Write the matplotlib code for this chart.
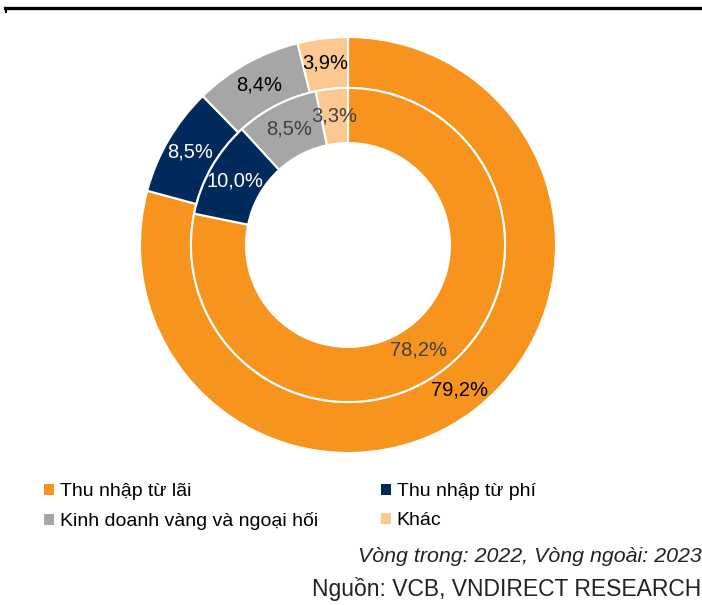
import numpy as np
import matplotlib
matplotlib.use('Agg')
import matplotlib.pyplot as plt
from matplotlib.lines import Line2D
from matplotlib.patches import Patch

plt.rcParams['font.family'] = ['Liberation Sans', 'DejaVu Sans']

categories = ['Thu nhập từ lãi', 'Thu nhập từ phí', 'Kinh doanh vàng và ngoại hối', 'Khác']
inner_2022 = [78.2, 10.0, 8.5, 3.3]
outer_2023 = [79.2, 8.5, 8.4, 3.9]
colors = ['#F7941D', '#002A5C', '#A6A6A6', '#FDC88F']
label_colors_inner = ['#404040', 'white', '#404040', '#404040']
label_colors_outer = ['black', 'white', 'black', 'black']
# small nudge (px) for the label Excel moved
inner_nudge = [(-12, -4), (0, 0), (0, 0), (0, 0)]
outer_nudge = [(0, 0), (0, 0), (0, 0), (0, 0)]

W, H = 702, 605
fig = plt.figure(figsize=(W / 100, H / 100), dpi=100)

cx, cy, R = 348, 245, 208
ax = fig.add_axes([(cx - R) / W, (H - cy - R) / H, 2 * R / W, 2 * R / H])

r_out, r_mid, r_hole = 1.0, 0.755, 0.49
ax.pie(outer_2023, radius=r_out, colors=colors, startangle=90, counterclock=False,
       wedgeprops=dict(width=r_out - r_mid, edgecolor='white', linewidth=1.5))
ax.pie(inner_2022, radius=r_mid, colors=colors, startangle=90, counterclock=False,
       wedgeprops=dict(width=r_mid - r_hole, edgecolor='white', linewidth=1.5))
ax.set_xlim(-1, 1)
ax.set_ylim(-1, 1)
ax.axis('off')


def add_labels(vals, radius, tcolors, nudges):
    cum = np.cumsum([0] + vals)
    for i, v in enumerate(vals):
        mid = (cum[i] + v / 2) / cum[-1]
        ang = np.deg2rad(90 - 360 * mid)
        x, y = radius * np.cos(ang), radius * np.sin(ang)
        ax.annotate(f'{v:.1f}%'.replace('.', ','), (x, y), xytext=nudges[i],
                    textcoords='offset pixels', ha='center', va='center',
                    fontsize=14.5, color=tcolors[i])


add_labels(inner_2022, 0.625, label_colors_inner, inner_nudge)
add_labels(outer_2023, 0.88, label_colors_outer, outer_nudge)

# top rule
fig.add_artist(Line2D([5 / W, 1], [1 - 8 / H, 1 - 8 / H], color='black', lw=2.4))
fig.add_artist(Line2D([6 / W, 6 / W], [1 - 8 / H, 1 - 12 / H], color='black', lw=1.5))

handles = [Patch(facecolor=c, edgecolor='none') for c in colors]
order = [0, 2, 1, 3]
fig.legend([handles[i] for i in order], [categories[i] for i in order], ncol=2,
           loc='upper left', bbox_to_anchor=(44 / W, 1 - 483 / H), frameon=False,
           fontsize=14, handlelength=0.5, handleheight=0.5, handletextpad=0.3,
           columnspacing=3.25, labelspacing=0.62, borderpad=0, borderaxespad=0)

fig.text(0.999, 1 - 557 / H, 'Vòng trong: 2022, Vòng ngoài: 2023', ha='right',
         va='center', fontsize=15.4, style='italic', color='#222222')
fig.text(0.999, 1 - 589 / H, 'Nguồn: VCB, VNDIRECT RESEARCH', ha='right',
         va='center', fontsize=16.5, color='#222222')

fig.savefig('out.png', dpi=100)
